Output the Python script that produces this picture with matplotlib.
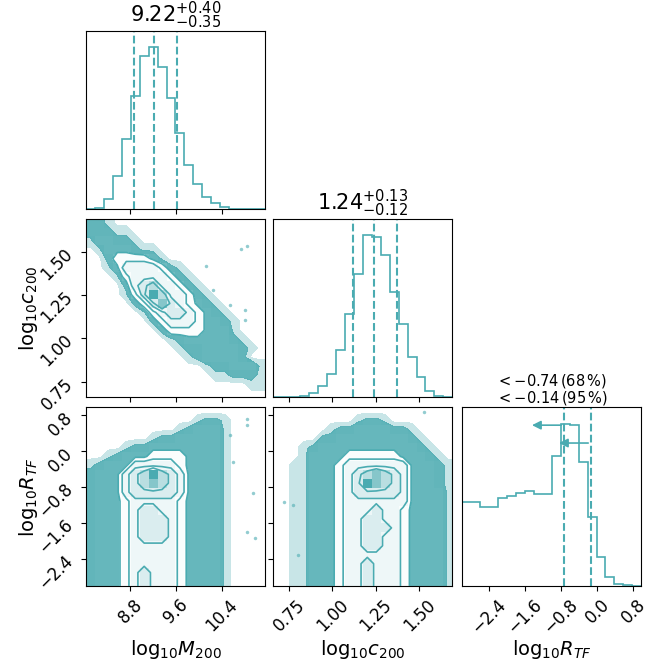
import numpy as np
import matplotlib.pyplot as plt
from matplotlib.colors import LinearSegmentedColormap, to_rgba

teal = "#4aabb1"

# axis ranges (same range for 1D hist and 2D panels)
m_range = (8.03, 11.15)
c_range = (0.66, 1.69)
r_range = (-3.0, 0.98)

# 1D histogram heights (20 bins, relative counts)
m_counts = [2, 8, 62, 207, 433, 700, 943, 1000, 877, 688, 470, 271, 156, 78, 37, 16, 4, 2, 1, 0]
c_counts = [0, 0, 3, 10, 29, 68, 142, 292, 510, 758, 1000, 986, 877, 649, 451, 247, 122, 39, 8, 2]
r_counts = [520, 520, 485, 489, 540, 556, 571, 587, 567, 569, 800, 1000, 990, 765, 427, 181, 55, 15, 3, 0]

# quantiles
m_q = [8.87, 9.22, 9.62]
c_q = [1.12, 1.24, 1.37]
r_lim = [-0.74, -0.14]  # 68% and 95% upper limits

# 2D density codes, 20x20 bins, top row first
# 0 = empty, 1-3 = sample cloud, 4-9 = inside the contours
mc_map = [
    "22100000000000000000",
    "22211000000000000000",
    "13322100000000000000",
    "01333211000000000000",
    "00244443100000000000",
    "00135555421000000000",
    "00014555542100000000",
    "00002567554210000000",
    "00001469755421000000",
    "00000246865432100000",
    "00000014566543210000",
    "00000002455543321000",
    "00000000244443331000",
    "00000000012333332100",
    "00000000001223333210",
    "00000000000123333200",
    "00000000000001223331",
    "00000000000000112221",
    "00000000000000000011",
    "00000000000000000000",
]
mr_map = [
    "00000000000000000000",
    "00000000000012210000",
    "00000000001233310000",
    "00000001223333310000",
    "00001223333333310000",
    "00123334444333310000",
    "12333555554333310000",
    "23335679765333310000",
    "23335678765333310000",
    "23335666665333310000",
    "23334555554333310000",
    "23334566554333310000",
    "23334566654333310000",
    "23334566654333310000",
    "23334566654333310000",
    "23334555554333310000",
    "23334555554333310000",
    "23334555554333310000",
    "23334565554333310000",
    "23334565554333310000",
]
cr_map = [
    "00000000000000000000",
    "00000000012210000000",
    "00000012233332210000",
    "00000223333333321000",
    "00012333333333332100",
    "00013333444444333210",
    "00113334555555533321",
    "00113334567876533321",
    "00113334569876533321",
    "00113334566666533331",
    "00113334555555533331",
    "00113334555655433331",
    "00113334556655433331",
    "00113334556665433331",
    "00113334556655433331",
    "00113334556655433331",
    "00113334555555433331",
    "00113334556555433331",
    "00113334556555433331",
    "00113334556555433331",
]
code_density = [0, 0.02, 0.04, 0.07, 0.15, 0.3, 0.45, 0.62, 0.82, 1.0]

# isolated samples outside the main clouds
mc_out_m = [10.73, 10.83, 10.80, 10.81, 10.54, 10.13, 10.25]
mc_out_c = [1.515, 1.53, 1.165, 1.107, 1.19, 1.415, 1.28]
mr_out_m = [10.83, 10.83, 10.54, 10.94, 10.83, 10.97, 10.59]
mr_out_r = [0.73, 0.58, 0.36, -0.94, -1.79, -1.93, -0.24]
cr_out_c = [0.724, 0.771, 1.525, 0.80]
cr_out_r = [-1.12, -1.20, 0.88, -2.30]

m_label = r"$\mathrm{log}_{10}M_{200}$"
c_label = r"$\mathrm{log}_{10}c_{200}$"
r_label = r"$\mathrm{log}_{10}R_{TF}$"
m_ticks = [8.8, 9.6, 10.4]
c_ticks = [0.75, 1.00, 1.25, 1.50]
r_ticks = [-2.4, -1.6, -0.8, 0.0, 0.8]

density_cmap = LinearSegmentedColormap.from_list("density_cmap", [teal, (1, 1, 1, 0)])
rgb = to_rgba(teal)


def hist1d(ax, counts, rng, ticks):
    edges = np.linspace(rng[0], rng[1], len(counts) + 1)
    ax.stairs(counts, edges, color=teal, lw=1.2)
    ax.set_xlim(rng)
    ax.set_ylim(0, 1.1 * max(counts))
    ax.set_yticks([])
    ax.set_xticks(ticks)


def hist2d(ax, rows, xr, yr, xs, ys):
    codes = np.array([[int(ch) for ch in row] for row in rows])[::-1]
    H = np.array(code_density)[codes]
    n = H.shape[0]
    xe = np.linspace(xr[0], xr[1], n + 1)
    ye = np.linspace(yr[0], yr[1], n + 1)
    dx, dy = xe[1] - xe[0], ye[1] - ye[0]
    xc = np.concatenate([[xe[0] - dx / 2], xe[:-1] + dx / 2, [xe[-1] + dx / 2]])
    yc = np.concatenate([[ye[0] - dy / 2], ye[:-1] + dy / 2, [ye[-1] + dy / 2]])
    H2 = np.pad(H, 1, mode="edge")
    d = code_density
    ax.plot(xs, ys, "o", ms=2.5, mec="none", color=teal, alpha=0.6, zorder=0)
    ax.contourf(xc, yc, H2, levels=[0.006, 0.028, 2],
                colors=[(rgb[0], rgb[1], rgb[2], 0.3), (rgb[0], rgb[1], rgb[2], 0.9)], zorder=0)
    lv = [d[k - 1] + 0.3 * (d[k] - d[k - 1]) for k in (4, 5, 6, 7)]
    ax.contourf(xc, yc, H2, levels=[lv[0], 2], colors="white", zorder=1)
    ax.pcolormesh(xe, ye, H.max() - H, cmap=density_cmap, zorder=2)
    ax.contour(xc, yc, H2, levels=lv, colors=teal, linewidths=1.2, zorder=3)
    ax.set_xlim(xr)
    ax.set_ylim(yr)


fig = plt.figure(figsize=(6.66, 6.64), dpi=100)
lefts = [0.1291, 0.4104, 0.6941]
bottoms = [0.6848, 0.4017, 0.1175]
w, h = 0.2688, 0.2691
axes = {}
for i in range(3):
    for j in range(i + 1):
        axes[i, j] = fig.add_axes([lefts[j], bottoms[i], w, h])

# diagonal
ax = axes[0, 0]
hist1d(ax, m_counts, m_range, m_ticks)
for q in m_q:
    ax.axvline(q, ls="--", color=teal, lw=1.5)
ax.set_title(f"${m_q[1]:.2f}^{{+{m_q[2]-m_q[1]:.2f}}}_{{-{m_q[1]-m_q[0]:.2f}}}$", fontsize=15)

ax = axes[1, 1]
hist1d(ax, c_counts, c_range, c_ticks)
for q in c_q:
    ax.axvline(q, ls="--", color=teal, lw=1.5)
ax.set_title(f"${c_q[1]:.2f}^{{+{c_q[2]-c_q[1]:.2f}}}_{{-{c_q[1]-c_q[0]:.2f}}}$", fontsize=15)

ax = axes[2, 2]
hist1d(ax, r_counts, r_range, r_ticks)
for k, q in enumerate(r_lim):
    ax.axvline(q, ls="--", color=teal, lw=1.5)
    ax.annotate("", xy=(q - 0.71, 0.9 - 0.1 * k), xytext=(q - 0.06, 0.9 - 0.1 * k),
                xycoords=ax.get_xaxis_transform(),
                arrowprops=dict(arrowstyle="-|>", color=teal, lw=1.2, mutation_scale=13,
                                shrinkA=0, shrinkB=0))
ax.set_title(f"$<{r_lim[0]:.2f}\\,(68\\,\\%)$\n$<{r_lim[1]:.2f}\\,(95\\,\\%)$",
             fontsize=10.5, pad=-1.5, linespacing=0.95)

# off-diagonal
hist2d(axes[1, 0], mc_map, m_range, c_range, mc_out_m, mc_out_c)
hist2d(axes[2, 0], mr_map, m_range, r_range, mr_out_m, mr_out_r)
hist2d(axes[2, 1], cr_map, c_range, r_range, cr_out_c, cr_out_r)

for (i, j), ax in axes.items():
    ax.tick_params(labelsize=12)
    if i == 2:
        ax.set_xticks([m_ticks, c_ticks, r_ticks][j])
        ax.set_xlabel([m_label, c_label, r_label][j], fontsize=14)
        ax.xaxis.set_label_coords(0.5, -0.29)
        for lab in ax.get_xticklabels():
            lab.set_rotation(45)
    else:
        ax.set_xticks([m_ticks, c_ticks, r_ticks][j])
        ax.set_xticklabels([])
    if j == 0 and i > 0:
        ax.set_yticks([None, c_ticks, r_ticks][i])
        ax.set_ylabel([None, c_label, r_label][i], fontsize=14)
        ax.yaxis.set_label_coords(-0.255, 0.5)
        for lab in ax.get_yticklabels():
            lab.set_rotation(45)
    elif i != j:
        ax.set_yticks([None, c_ticks, r_ticks][i])
        ax.set_yticklabels([])

fig.savefig("out.png", dpi=100)
